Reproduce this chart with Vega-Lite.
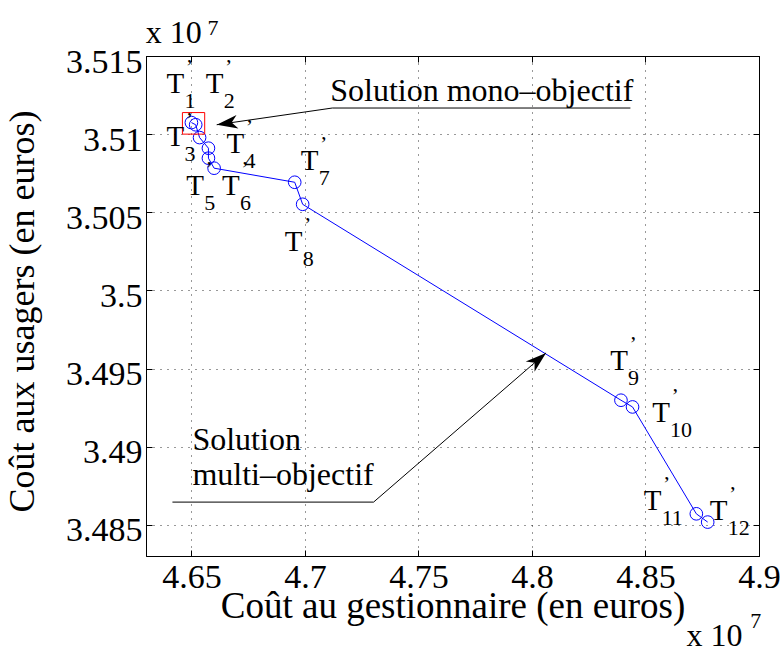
{
  "$schema": "https://vega.github.io/schema/vega-lite/v6.json",
  "width": 613,
  "height": 500,
  "autosize": {"type": "none"},
  "padding": {"left": 146, "top": 56, "right": 25, "bottom": 94},
  "background": "white",
  "config": {
    "view": {"stroke": "#000", "strokeWidth": 1}
  },
  "datasets": {
    "pts": [
      {"i": 1, "x": 4.6500, "y": 3.51074},
      {"i": 2, "x": 4.65189, "y": 3.51060},
      {"i": 3, "x": 4.6536, "y": 3.50978},
      {"i": 4, "x": 4.6575, "y": 3.50910},
      {"i": 5, "x": 4.6575, "y": 3.50846},
      {"i": 6, "x": 4.6600, "y": 3.50782},
      {"i": 7, "x": 4.6955, "y": 3.50692},
      {"i": 8, "x": 4.6990, "y": 3.50551},
      {"i": 9, "x": 4.8392, "y": 3.49297},
      {"i": 10, "x": 4.8443, "y": 3.49254},
      {"i": 11, "x": 4.8724, "y": 3.48570},
      {"i": 12, "x": 4.8774, "y": 3.48517}
    ],
    "lab": [
      {"n": "1", "x": 4.64296, "y": 3.51263},
      {"n": "2", "x": 4.66026, "y": 3.51263},
      {"n": "3", "x": 4.64296, "y": 3.50921},
      {"n": "4", "x": 4.66937, "y": 3.50880},
      {"n": "5", "x": 4.65167, "y": 3.50611},
      {"n": "6", "x": 4.66743, "y": 3.50611},
      {"n": "7", "x": 4.70207, "y": 3.50771},
      {"n": "8", "x": 4.69503, "y": 3.50252},
      {"n": "9", "x": 4.83838, "y": 3.49489},
      {"n": "10", "x": 4.85687, "y": 3.49158},
      {"n": "11", "x": 4.85317, "y": 3.48592},
      {"n": "12", "x": 4.88222, "y": 3.48528}
    ],
    "box": [
      {"x": 4.64604, "x2": 4.65585, "y": 3.51, "y2": 3.51138}
    ],
    "arrows": [
      {"g": "mono", "o": 1, "x": 4.84336, "y": 3.51167},
      {"g": "mono", "o": 2, "x": 4.71206, "y": 3.51167},
      {"g": "mono", "o": 3, "x": 4.66114, "y": 3.5106},
      {"g": "multi", "o": 1, "x": 4.64164, "y": 3.48645},
      {"g": "multi", "o": 2, "x": 4.73024, "y": 3.48645},
      {"g": "multi", "o": 3, "x": 4.8062, "y": 3.4960}
    ],
    "notes": [
      {"x": 4.71115, "y": 3.51209, "t": "Solution mono–objectif"},
      {"x": 4.65044, "y": 3.48976, "t": "Solution"},
      {"x": 4.65044, "y": 3.48752, "t": "multi–objectif"}
    ],
    "mult": [
      {"p": "base", "x": 4.62991, "y": 3.51583, "t": "x 10"},
      {"p": "exp", "x": 4.65704, "y": 3.51637, "t": "7"},
      {"p": "base", "x": 4.86802, "y": 3.47727, "t": "x 10"},
      {"p": "exp", "x": 4.89617, "y": 3.47842, "t": "7"}
    ]
  },
  "encoding": {
    "x": {"field": "x", "type": "quantitative", "scale": {"domain": [4.63, 4.9], "nice": false, "zero": false}, "axis": null},
    "y": {"field": "y", "type": "quantitative", "scale": {"domain": [3.483, 3.515], "nice": false, "zero": false}, "axis": null}
  },
  "layer": [
    {
      "data": {"name": "pts"},
      "mark": {"type": "line", "color": "#0000ff", "strokeWidth": 1},
      "encoding": {
        "x": {"field": "x", "type": "quantitative", "scale": {"domain": [4.63, 4.9], "nice": false, "zero": false},
          "axis": {"orient": "bottom", "values": [4.65, 4.7, 4.75, 4.8, 4.85, 4.9], "format": "~g",
            "grid": true, "gridDash": [1, 6], "gridColor": "#000", "gridOpacity": 0.8,
            "ticks": true, "tickSize": -6, "tickColor": "#000", "domainColor": "#000",
            "labelFont": "Liberation Serif", "labelFontSize": 34, "labelColor": "#000", "labelPadding": 37,
            "labelBaseline": "alphabetic", "labelFlush": false, "labelOverlap": false,
            "title": "Coût au gestionnaire (en euros)", "titleFont": "Liberation Serif", "titleFontSize": 37,
            "titleFontWeight": "normal", "titleColor": "#000", "titleY": 61,
            "titleBaseline": "alphabetic", "titleAlign": "center"}},
        "y": {"field": "y", "type": "quantitative", "scale": {"domain": [3.483, 3.515], "nice": false, "zero": false},
          "axis": {"orient": "left", "values": [3.485, 3.49, 3.495, 3.5, 3.505, 3.51, 3.515], "format": "~g",
            "grid": true, "gridDash": [1, 6], "gridColor": "#000", "gridOpacity": 0.8,
            "ticks": true, "tickSize": -6, "tickColor": "#000", "domainColor": "#000",
            "labelFont": "Liberation Serif", "labelFontSize": 34, "labelColor": "#000", "labelPadding": 10,
            "labelBaseline": "alphabetic", "labelOffset": 16, "labelFlush": false, "labelOverlap": false,
            "title": "Coût aux usagers (en euros)", "titleFont": "Liberation Serif", "titleFontSize": 36,
            "titleFontWeight": "normal", "titleColor": "#000", "titleX": -113, "titleY": 255, "titleAngle": -90,
            "titleBaseline": "alphabetic", "titleAlign": "center"}},
        "order": {"field": "i", "type": "quantitative"}
      }
    },
    {
      "data": {"name": "pts"},
      "mark": {"type": "point", "shape": "circle", "filled": false, "stroke": "#0000ff", "strokeWidth": 1, "size": 160, "opacity": 1},
      "encoding": {
        "x": {"field": "x", "type": "quantitative", "scale": {"domain": [4.63, 4.9], "nice": false, "zero": false},
          "axis": {"orient": "top", "values": [4.65, 4.7, 4.75, 4.8, 4.85, 4.9], "labels": false, "grid": false,
            "ticks": true, "tickSize": -6, "tickColor": "#000", "domainColor": "#000", "title": null}},
        "y": {"field": "y", "type": "quantitative", "scale": {"domain": [3.483, 3.515], "nice": false, "zero": false},
          "axis": {"orient": "right", "values": [3.485, 3.49, 3.495, 3.5, 3.505, 3.51, 3.515], "labels": false, "grid": false,
            "ticks": true, "tickSize": -6, "tickColor": "#000", "domainColor": "#000", "title": null}}
      }
    },
    {
      "data": {"name": "box"},
      "mark": {"type": "rect", "fill": null, "fillOpacity": 0, "stroke": "#ff0000", "strokeWidth": 1},
      "encoding": {
        "x2": {"field": "x2"},
        "y2": {"field": "y2"}
      }
    },
    {
      "data": {"name": "arrows"},
      "mark": {"type": "line", "color": "#000", "strokeWidth": 1},
      "encoding": {
        "detail": {"field": "g", "type": "nominal"},
        "order": {"field": "o", "type": "quantitative"}
      }
    },
    {
      "data": {"name": "arrows"},
      "transform": [{"filter": "datum.g === 'mono' && datum.o === 3"}],
      "mark": {"type": "point", "shape": "M0,0L-1,-0.32L-0.72,0L-1,0.32Z", "size": 1764, "filled": true, "color": "#000", "opacity": 1, "strokeWidth": 0, "angle": 171.8},
      "encoding": {}
    },
    {
      "data": {"name": "arrows"},
      "transform": [{"filter": "datum.g === 'multi' && datum.o === 3"}],
      "mark": {"type": "point", "shape": "M0,0L-1,-0.32L-0.72,0L-1,0.32Z", "size": 1764, "filled": true, "color": "#000", "opacity": 1, "strokeWidth": 0, "angle": 319.2},
      "encoding": {}
    },
    {
      "data": {"name": "notes"},
      "mark": {"type": "text", "align": "left", "baseline": "alphabetic", "fontSize": 32, "font": "Liberation Serif", "color": "#000"},
      "encoding": {"text": {"field": "t"}}
    },
    {
      "data": {"name": "lab"},
      "mark": {"type": "text", "align": "center", "baseline": "alphabetic", "fontSize": 29, "font": "Liberation Serif", "color": "#000", "text": "T"},
      "encoding": {}
    },
    {
      "data": {"name": "lab"},
      "mark": {"type": "text", "align": "center", "baseline": "alphabetic", "fontSize": 22, "font": "Liberation Serif", "color": "#000", "text": "’", "dx": 14, "dy": -19},
      "encoding": {}
    },
    {
      "data": {"name": "lab"},
      "mark": {"type": "text", "align": "left", "baseline": "alphabetic", "fontSize": 22, "font": "Liberation Serif", "color": "#000", "dx": 9, "dy": 15},
      "encoding": {"text": {"field": "n"}}
    },
    {
      "data": {"name": "mult"},
      "transform": [{"filter": "datum.p === 'base'"}],
      "mark": {"type": "text", "align": "left", "baseline": "alphabetic", "fontSize": 32, "font": "Liberation Serif", "color": "#000"},
      "encoding": {"text": {"field": "t"}}
    },
    {
      "data": {"name": "mult"},
      "transform": [{"filter": "datum.p === 'exp'"}],
      "mark": {"type": "text", "align": "left", "baseline": "alphabetic", "fontSize": 22, "font": "Liberation Serif", "color": "#000"},
      "encoding": {"text": {"field": "t"}}
    }
  ]
}
